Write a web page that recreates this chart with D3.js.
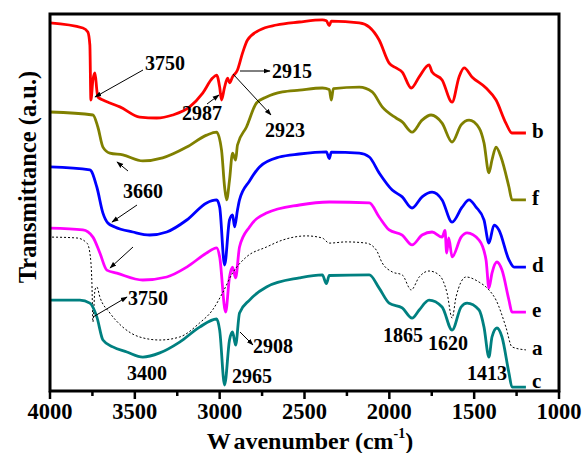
<!DOCTYPE html>
<html><head><meta charset="utf-8">
<script src="https://cdn.jsdelivr.net/npm/d3@7/dist/d3.min.js"></script>
<style>
body{margin:0;background:#fff}
text{font-family:"Liberation Serif","Times New Roman",serif;font-weight:bold;fill:#000}
</style>
</head><body>
<svg id="chart" width="582" height="453"></svg>
<script>
// ---- data (wavenumber cm-1, transmittance a.u.) ----
const majorTicks = [4000, 3500, 3000, 2500, 2000, 1500, 1000];
const minorTicks = [3750, 3250, 2750, 2250, 1750, 1250];

const spectrumB = [[4000,122.7],[3806,121],[3777,119.7],[3765,115.3],[3759,97],[3747,103.7],[3735,106],[3724,100.3],[3718,98],[3688,97],[3647,96],[3588,94.7],[3471,91.3],[3371,91],[3277,92],[3177,94.7],[3100,99.3],[3042,104.3],[3018,105.3],[3000,101.3],[2989,97],[2971,101.3],[2953,104.3],[2942,102.7],[2924,104.7],[2895,107],[2865,112.7],[2836,117],[2765,120.3],[2665,122],[2530,123],[2395,123.7],[2371,123.4],[2354,121.8],[2342,123.3],[2177,122.7],[2118,121.3],[2060,117],[2001,109.3],[1960,107.7],[1924,106.3],[1871,101],[1824,104.7],[1766,108.7],[1748,106.3],[1689,103.7],[1630,96.3],[1589,104.7],[1559,107.7],[1513,104.7],[1430,101],[1371,97],[1313,89.3],[1277,86],[1195,86]];

const spectrumF = [[4000,93],[3747,92],[3718,88],[3688,81.3],[3647,79.3],[3571,78.7],[3453,76.7],[3336,77.7],[3194,81.3],[3077,85.3],[3018,86.3],[2989,80.3],[2971,68],[2959,63.7],[2942,70.3],[2924,79.3],[2906,77],[2895,82],[2842,88],[2783,96],[2724,98],[2630,99.7],[2530,100.3],[2395,101],[2354,100.5],[2342,97],[2330,100.8],[2177,101.3],[2101,99.7],[2042,94.7],[1960,91],[1924,89.7],[1866,86.3],[1807,90.3],[1754,92],[1689,89.3],[1630,83],[1577,88.7],[1530,90.3],[1471,87.7],[1442,82.7],[1413,72.7],[1395,77],[1371,81.3],[1342,78],[1295,68],[1277,63.7],[1195,63.7]];

const spectrumD = [[4000,74.7],[3765,73.7],[3724,68],[3688,59.3],[3659,56],[3618,54.7],[3512,53],[3412,52],[3312,53],[3194,57],[3077,62.7],[3018,63.7],[3000,61.3],[2971,42],[2942,57],[2924,58.7],[2912,54.7],[2895,60.3],[2883,63.7],[2824,70],[2765,74.7],[2648,78],[2530,79],[2371,79.7],[2354,77.5],[2342,79.6],[2177,79.3],[2118,78],[2060,72.7],[1983,67],[1924,64.7],[1866,61],[1807,64.7],[1748,66.3],[1689,63.7],[1630,56.3],[1571,61.3],[1530,63.7],[1489,61.3],[1442,57],[1413,49.3],[1383,55.3],[1354,53.7],[1295,43.7],[1265,41.3],[1195,41.3]];

const spectrumE = [[4000,54.3],[3806,53.7],[3747,51.3],[3706,46],[3665,40.3],[3606,39.3],[3453,37],[3312,38],[3194,41.3],[3077,46],[3018,47.7],[3000,44.7],[2965,26.3],[2942,38],[2924,41.3],[2906,37.7],[2883,48],[2824,54.7],[2724,59.3],[2530,62],[2354,63],[2118,62.7],[2060,58],[2001,53.7],[1924,52],[1866,48.7],[1807,52],[1748,53],[1689,51.3],[1672,53.5],[1662,46],[1650,51],[1630,44.7],[1577,51.3],[1542,52.7],[1471,50.3],[1430,43.7],[1413,34.3],[1395,39.3],[1366,43],[1336,40.3],[1295,30.3],[1277,26.3],[1195,26.3]];

const spectrumA = [[3988,51.3],[3841,51],[3782,49.3],[3765,46],[3753,36],[3747,23],[3735,33.7],[3724,34.7],[3706,31.3],[3647,26],[3571,21.3],[3471,18],[3353,17],[3236,18],[3118,22.7],[3042,27],[2983,32.7],[2924,39.3],[2842,44.7],[2724,48],[2630,50.3],[2489,51.7],[2395,51],[2354,49.3],[2254,49.7],[2136,49.3],[2077,47],[2042,42.7],[1983,39.7],[1924,38.7],[1871,33.7],[1824,38],[1766,40],[1707,38.7],[1660,32.7],[1630,24.3],[1607,31.3],[1548,38],[1471,36.3],[1413,33.7],[1371,30.3],[1313,21.3],[1277,14.7],[1195,13.7]];

const spectrumC = [[4000,30.3],[3824,30.3],[3765,29.3],[3724,24.7],[3688,17],[3630,14.7],[3547,13],[3453,11.3],[3353,12.7],[3236,16.3],[3118,21.3],[3018,24],[3000,20.3],[2971,2],[2942,17],[2924,19.7],[2906,15.3],[2883,26],[2824,30.3],[2724,34.7],[2530,37.7],[2395,38.7],[2371,35.8],[2354,38.5],[2118,38.7],[2060,34.3],[2001,29.3],[1924,27.7],[1866,24.3],[1824,27],[1766,30.3],[1689,28],[1630,20.3],[1577,28],[1542,29.3],[1471,27],[1442,21.3],[1413,11.3],[1395,18],[1366,21],[1336,18],[1295,6],[1277,1.3],[1195,1.3]];

const seriesLabels = ["b", "f", "d", "e", "a", "c"];
const seriesData = [spectrumB, spectrumF, spectrumD, spectrumE, spectrumA, spectrumC];
const seriesColors = ["#ff0000", "#808000", "#0000ff", "#ff00ff", "#000000", "#008080"];

// ---- layout ----
const svg = d3.select("#chart");
const L = 50, R = 559, T = 14, B = 391;
const x = d3.scaleLinear().domain([4000, 1000]).range([L, R]);
const y = d3.scaleLinear().domain([0, 125.67]).range([B, T]);

svg.append("defs").append("marker")
  .attr("id", "arr").attr("viewBox", "0 0 10 10").attr("refX", 9).attr("refY", 5)
  .attr("markerWidth", 7).attr("markerHeight", 7).attr("markerUnits", "userSpaceOnUse")
  .attr("orient", "auto")
  .append("path").attr("d", "M0,1.5 L10,5 L0,8.5 Z").attr("fill", "#000");

const line = d3.line().x(d => x(d[0])).y(d => y(d[1])).curve(d3.curveMonotoneX);

seriesData.forEach((s, i) => {
  const isA = seriesLabels[i] === "a";
  svg.append("path").datum(s)
    .attr("d", line)
    .attr("fill", "none")
    .attr("stroke", seriesColors[i])
    .attr("stroke-width", isA ? 1 : 2.8)
    .attr("stroke-dasharray", isA ? "2,2" : null)
    .attr("stroke-linejoin", "round");
});

// frame
svg.append("rect").attr("x", L).attr("y", T).attr("width", R - L).attr("height", B - T)
  .attr("fill", "none").attr("stroke", "#000").attr("stroke-width", 3);

// series letters at line ends
seriesData.forEach((s, i) => {
  const last = s[s.length - 1];
  svg.append("text").attr("x", x(last[0]) + 6).attr("y", Math.min(y(last[1]) + 5, B - 3))
    .attr("font-size", 21).text(seriesLabels[i]);
});

// x axis ticks
const ax = svg.append("g");
ax.selectAll(".maj").data(majorTicks).enter().append("line")
  .attr("x1", d => x(d)).attr("x2", d => x(d)).attr("y1", B).attr("y2", B + 8)
  .attr("stroke", "#000").attr("stroke-width", 2.5);
ax.selectAll(".min").data(minorTicks).enter().append("line")
  .attr("x1", d => x(d)).attr("x2", d => x(d)).attr("y1", B).attr("y2", B + 5)
  .attr("stroke", "#000").attr("stroke-width", 2.5);
ax.selectAll(".lab").data(majorTicks).enter().append("text")
  .attr("x", d => x(d)).attr("y", 419).attr("text-anchor", "middle")
  .attr("font-size", 22.5).text(d => d);

// axis titles
const xt = svg.append("text").attr("x", 310).attr("y", 449).attr("text-anchor", "middle").attr("font-size", 24);
xt.append("tspan").text("W");
xt.append("tspan").attr("dx", 4).text("avenumber (cm");
xt.append("tspan").attr("font-size", 14).attr("dy", -11).text("-1");
xt.append("tspan").attr("dy", 11).text(")");

svg.append("text").attr("transform", "translate(36,177) rotate(-90)")
  .attr("text-anchor", "middle").attr("font-size", 24.5).text("Transmittance (a.u.)");

// annotations
const notes = [
  {t:"3750", x:145, y:70}, {t:"2987", x:182, y:120}, {t:"2915", x:272, y:78},
  {t:"2923", x:265, y:137}, {t:"3660", x:123, y:198}, {t:"3750", x:128, y:305},
  {t:"3400", x:127, y:380}, {t:"2908", x:253, y:353}, {t:"2965", x:232, y:383},
  {t:"1865", x:383, y:342}, {t:"1620", x:428, y:350}, {t:"1413", x:467, y:380}
];
notes.forEach(n => svg.append("text").attr("x", n.x).attr("y", n.y).attr("font-size", 20).text(n.t));

const arrows = [
  [143,70,95,97], [207,104,219,95], [240,71,270,71], [233,74,271,115],
  [128,171,117,162], [137,205,112,222], [133,247,110,268], [93,317,127,297], [240,332,253,345]
];
arrows.forEach(a => svg.append("line").attr("x1", a[0]).attr("y1", a[1]).attr("x2", a[2]).attr("y2", a[3])
  .attr("stroke", "#000").attr("stroke-width", 1).attr("marker-end", "url(#arr)"));
</script>
</body></html>
